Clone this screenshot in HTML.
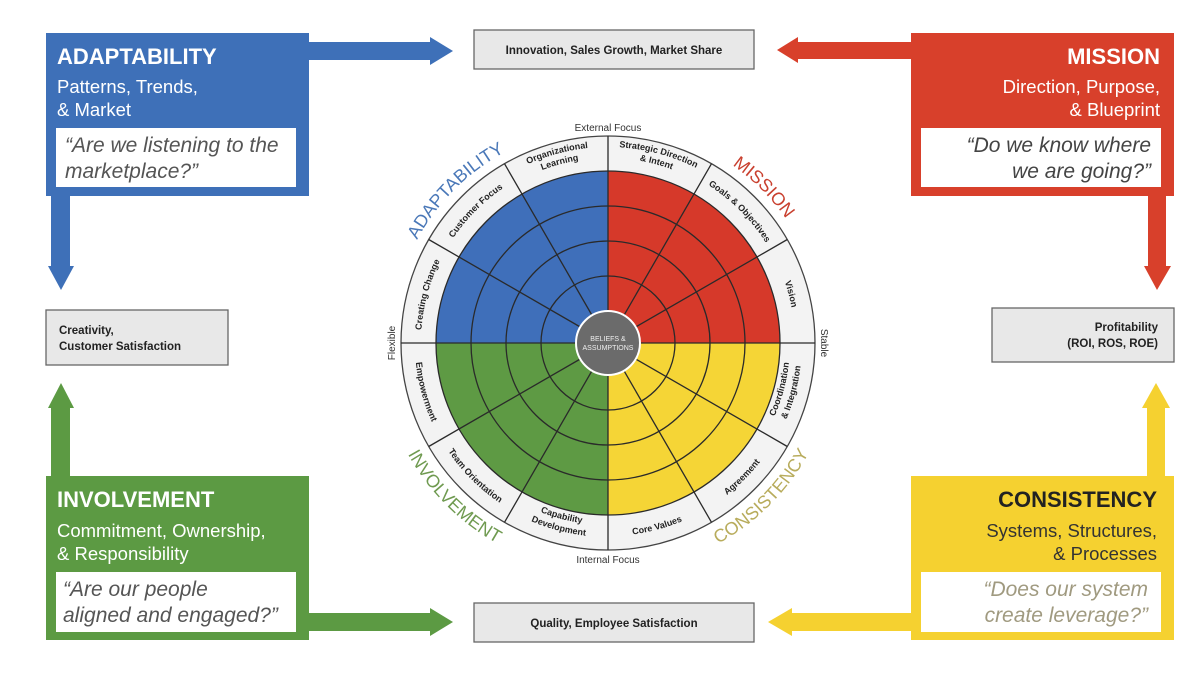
<!DOCTYPE html>
<html><head><meta charset="utf-8"><style>
html,body{margin:0;padding:0;background:#fff;}
svg{display:block;font-family:"Liberation Sans",Arial,sans-serif;}
</style></head><body>
<svg width="1200" height="675" viewBox="0 0 1200 675" xmlns="http://www.w3.org/2000/svg">
<defs>
<path id="cw187" d="M608,156 A187,187 0 1 1 608,530 A187,187 0 1 1 608,156"/>
<path id="cw196" d="M608,147 A196,196 0 1 1 608,539 A196,196 0 1 1 608,147"/>
<path id="cw185" d="M608,158 A185,185 0 1 1 608,528 A185,185 0 1 1 608,158"/>
<path id="cw217" d="M608,126 A217,217 0 1 1 608,560 A217,217 0 1 1 608,126"/>
<path id="ccw193" d="M608,150 A193,193 0 1 0 608,536 A193,193 0 1 0 608,150"/>
<path id="ccw182" d="M608,161 A182,182 0 1 0 608,525 A182,182 0 1 0 608,161"/>
<path id="ccw194" d="M608,149 A194,194 0 1 0 608,537 A194,194 0 1 0 608,149"/>
<path id="ccw229" d="M608,114 A229,229 0 1 0 608,572 A229,229 0 1 0 608,114"/>
</defs>

<!-- Arrows -->
<g fill="#3e70b8">
<rect x="300" y="42" width="132" height="18"/><polygon points="430,37 453,51 430,65"/>
<rect x="51" y="190" width="19" height="80"/><polygon points="48,266 74,266 61,290"/>
</g>
<g fill="#d8402b">
<rect x="795" y="42" width="125" height="17"/><polygon points="798,37 777,50 798,63"/>
<rect x="1148" y="190" width="18" height="80"/><polygon points="1144,266 1171,266 1157,290"/>
</g>
<g fill="#5c9a43">
<rect x="51" y="405" width="19" height="80"/><polygon points="48,408 74,408 61,383"/>
<rect x="300" y="613" width="132" height="18"/><polygon points="430,608 453,622 430,636"/>
</g>
<g fill="#f5d130">
<rect x="1147" y="405" width="18" height="80"/><polygon points="1142,408 1170,408 1156,383"/>
<rect x="790" y="613" width="130" height="18"/><polygon points="792,608 768,622 792,636"/>
</g>

<!-- Colored boxes -->
<rect x="46" y="33" width="263" height="163" fill="#3e70b8"/>
<rect x="56" y="128" width="240" height="59" fill="#fff"/>
<text x="57" y="64" fill="#fff" font-size="22" font-weight="bold">ADAPTABILITY</text>
<text x="57" y="93" fill="#fff" font-size="18.5">Patterns, Trends,</text>
<text x="57" y="116" fill="#fff" font-size="18.5">&amp; Market</text>
<text x="65" y="152" fill="#555" font-size="21" font-style="italic">“Are we listening to the</text>
<text x="65" y="178" fill="#555" font-size="21" font-style="italic">marketplace?”</text>

<rect x="911" y="33" width="263" height="163" fill="#d8402b"/>
<rect x="921" y="128" width="240" height="59" fill="#fff"/>
<text x="1160" y="64" fill="#fff" font-size="22" font-weight="bold" text-anchor="end">MISSION</text>
<text x="1160" y="93" fill="#fff" font-size="18.5" text-anchor="end">Direction, Purpose,</text>
<text x="1160" y="116" fill="#fff" font-size="18.5" text-anchor="end">&amp; Blueprint</text>
<text x="1151" y="152" fill="#444" font-size="21" font-style="italic" text-anchor="end">“Do we know where</text>
<text x="1151" y="178" fill="#444" font-size="21" font-style="italic" text-anchor="end">we are going?”</text>

<rect x="46" y="476" width="263" height="164" fill="#5c9a43"/>
<rect x="56" y="572" width="240" height="60" fill="#fff"/>
<text x="57" y="507" fill="#fff" font-size="22" font-weight="bold">INVOLVEMENT</text>
<text x="57" y="537" fill="#fff" font-size="18.5">Commitment, Ownership,</text>
<text x="57" y="560" fill="#fff" font-size="18.5">&amp; Responsibility</text>
<text x="63" y="596" fill="#555" font-size="21" font-style="italic">“Are our people</text>
<text x="63" y="622" fill="#555" font-size="21" font-style="italic">aligned and engaged?”</text>

<rect x="911" y="476" width="263" height="164" fill="#f5d130"/>
<rect x="921" y="572" width="240" height="60" fill="#fff"/>
<text x="1157" y="507" fill="#222" font-size="22" font-weight="bold" text-anchor="end">CONSISTENCY</text>
<text x="1157" y="537" fill="#333" font-size="18.5" text-anchor="end">Systems, Structures,</text>
<text x="1157" y="560" fill="#333" font-size="18.5" text-anchor="end">&amp; Processes</text>
<text x="1148" y="596" fill="#a09a80" font-size="21" font-style="italic" text-anchor="end">“Does our system</text>
<text x="1148" y="622" fill="#a09a80" font-size="21" font-style="italic" text-anchor="end">create leverage?”</text>

<!-- Grey outcome boxes -->
<g fill="#e8e8e8" stroke="#666" stroke-width="1.3">
<rect x="474" y="30" width="280" height="39"/>
<rect x="474" y="603" width="280" height="39"/>
<rect x="46" y="310" width="182" height="55"/>
<rect x="992" y="308" width="182" height="54"/>
</g>
<g font-size="11.5" font-weight="bold" fill="#222">
<text x="614" y="54" text-anchor="middle">Innovation, Sales Growth, Market Share</text>
<text x="614" y="627" text-anchor="middle">Quality, Employee Satisfaction</text>
<text x="59" y="334">Creativity,</text>
<text x="59" y="350">Customer Satisfaction</text>
<text x="1158" y="331" text-anchor="end">Profitability</text>
<text x="1158" y="347" text-anchor="end">(ROI, ROS, ROE)</text>
</g>

<!-- Wheel -->
<circle cx="608" cy="343" r="207" fill="#f3f3f3" stroke="#444" stroke-width="1.3"/>
<path d="M608,343 L608,171 A172,172 0 0 1 780,343 Z" fill="#d6392a"/>
<path d="M608,343 L780,343 A172,172 0 0 1 608,515 Z" fill="#f5d536"/>
<path d="M608,343 L608,515 A172,172 0 0 1 436,343 Z" fill="#5e9a44"/>
<path d="M608,343 L436,343 A172,172 0 0 1 608,171 Z" fill="#3f6fba"/>
<g fill="none" stroke="#2a2a2a" stroke-width="1.3">
<circle cx="608" cy="343" r="172"/>
<circle cx="608" cy="343" r="137"/>
<circle cx="608" cy="343" r="102"/>
<circle cx="608" cy="343" r="67"/>
<line x1="608" y1="136" x2="608" y2="550"/>
<line x1="401" y1="343" x2="815" y2="343"/>
<line x1="608" y1="343" x2="711.5" y2="163.7"/>
<line x1="608" y1="343" x2="787.3" y2="239.5"/>
<line x1="608" y1="343" x2="787.3" y2="446.5"/>
<line x1="608" y1="343" x2="711.5" y2="522.3"/>
<line x1="608" y1="343" x2="504.5" y2="522.3"/>
<line x1="608" y1="343" x2="428.7" y2="446.5"/>
<line x1="608" y1="343" x2="428.7" y2="239.5"/>
<line x1="608" y1="343" x2="504.5" y2="163.7"/>
</g>
<circle cx="608" cy="343" r="32" fill="#6b6b6b" stroke="#fff" stroke-width="2"/>
<text x="608" y="341" fill="#eee" font-size="7" text-anchor="middle">BELIEFS &amp;</text>
<text x="608" y="350" fill="#eee" font-size="7" text-anchor="middle">ASSUMPTIONS</text>

<!-- ring labels -->
<g font-size="9" font-weight="bold" fill="#222" text-anchor="middle">
<text><textPath href="#cw196" startOffset="4.17%">Strategic Direction</textPath></text>
<text><textPath href="#cw185" startOffset="4.17%">&amp; Intent</textPath></text>
<text><textPath href="#cw187" startOffset="12.5%">Goals &amp; Objectives</textPath></text>
<text><textPath href="#cw187" startOffset="20.83%">Vision</textPath></text>
<text><textPath href="#cw187" startOffset="79.17%">Creating Change</textPath></text>
<text><textPath href="#cw187" startOffset="87.5%">Customer Focus</textPath></text>
<text><textPath href="#cw196" startOffset="95.83%">Organizational</textPath></text>
<text><textPath href="#cw185" startOffset="95.83%">Learning</textPath></text>
<text><textPath href="#ccw182" startOffset="70.83%">Coordination</textPath></text>
<text><textPath href="#ccw194" startOffset="70.83%">&amp; Integration</textPath></text>
<text><textPath href="#ccw193" startOffset="62.5%">Agreement</textPath></text>
<text><textPath href="#ccw193" startOffset="54.17%">Core Values</textPath></text>
<text><textPath href="#ccw182" startOffset="45.83%">Capability</textPath></text>
<text><textPath href="#ccw194" startOffset="45.83%">Development</textPath></text>
<text><textPath href="#ccw193" startOffset="37.5%">Team Orientation</textPath></text>
<text><textPath href="#ccw193" startOffset="29.17%">Empowerment</textPath></text>
</g>
<g font-size="18" text-anchor="middle">
<text fill="#4a78b8"><textPath href="#cw217" startOffset="87.5%">ADAPTABILITY</textPath></text>
<text fill="#c9402f"><textPath href="#cw217" startOffset="12.5%">MISSION</textPath></text>
<text fill="#b8ac5c"><textPath href="#ccw229" startOffset="62.5%">CONSISTENCY</textPath></text>
<text fill="#6f9a50"><textPath href="#ccw229" startOffset="37.5%">INVOLVEMENT</textPath></text>
</g>
<g font-size="10" fill="#333" text-anchor="middle">
<text x="608" y="131">External Focus</text>
<text x="608" y="563">Internal Focus</text>
<text transform="translate(395,343) rotate(-90)">Flexible</text>
<text transform="translate(821,343) rotate(90)">Stable</text>
</g>
</svg>
</body></html>
